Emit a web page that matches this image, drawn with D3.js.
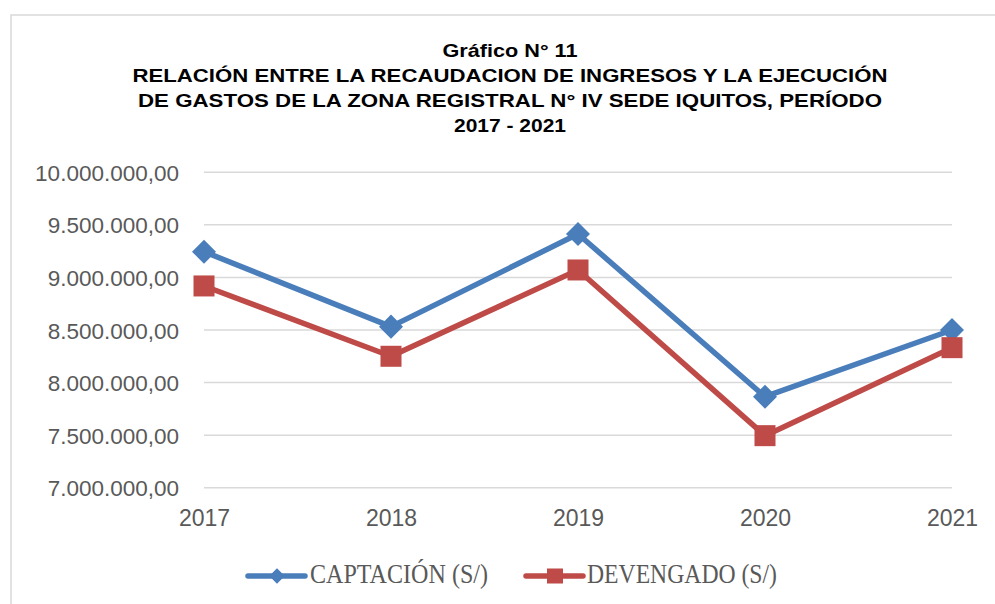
<!DOCTYPE html>
<html><head><meta charset="utf-8">
<script src="https://cdn.jsdelivr.net/npm/d3@7"></script>
<style>body{margin:0;background:#fff}svg{display:block}</style>
</head><body>
<svg id="c" width="995" height="604"></svg>
<script>
const years = ["2017","2018","2019","2020","2021"];
const captacion = [9245000, 8532000, 9413000, 7866000, 8500000];
const devengado = [8919000, 8250000, 9071000, 7495000, 8332000];
const yTicks = [7000000, 7500000, 8000000, 8500000, 9000000, 9500000, 10000000];
const seriesNames = ["CAPTACIÓN (S/)", "DEVENGADO (S/)"];
const titleLines = ["Gráfico N° 11",
  "RELACIÓN ENTRE LA RECAUDACION DE INGRESOS Y LA EJECUCIÓN",
  "DE GASTOS DE LA ZONA REGISTRAL N° IV SEDE IQUITOS, PERÍODO",
  "2017 - 2021"];

const svg = d3.select("#c");
// chart border
svg.append("rect").attr("x",11).attr("y",15).attr("width",1000).attr("height",620)
  .attr("fill","#fff").attr("stroke","#d9d9d9").attr("stroke-width",1.5);

// title
const tY = [57, 82, 107, 132];
const tW = [135, 755, 744, 112];
titleLines.forEach((t,i)=>{
  svg.append("text").attr("x",510).attr("y",tY[i]).attr("text-anchor","middle")
    .attr("font-family","Liberation Sans, Arial, sans-serif").attr("font-weight","bold")
    .attr("font-size",18.5).attr("fill","#000")
    .attr("textLength",tW[i]).attr("lengthAdjust","spacingAndGlyphs").text(t);
});

const x = d3.scalePoint().domain(years).range([204, 952]);
const y = d3.scaleLinear().domain([7000000, 10000000]).range([487.7, 172.3]);

const fmt = v => d3.format(",.2f")(v).replace(/,/g,"X").replace(/\./g,",").replace(/X/g,".");

// gridlines
svg.append("g").selectAll("line").data(yTicks).join("line")
  .attr("x1",204).attr("x2",952).attr("y1",d=>y(d)).attr("y2",d=>y(d))
  .attr("stroke","#d9d9d9").attr("stroke-width",1.5);

// y axis labels
const yAxis = d3.axisLeft(y).tickValues(yTicks).tickFormat(fmt).tickSize(0).tickPadding(0);
const gy = svg.append("g").attr("transform","translate(179,0)").call(yAxis);
gy.select(".domain").remove();
gy.selectAll("text").attr("font-family","Liberation Sans, Arial, sans-serif")
  .attr("font-size",22.5).attr("fill","#595959").attr("dy","0.36em");

// x axis labels
const xAxis = d3.axisBottom(x).tickSize(0).tickPadding(0);
const gx = svg.append("g").attr("transform","translate(0,510)").call(xAxis);
gx.select(".domain").remove();
gx.selectAll("text").attr("font-family","Liberation Sans, Arial, sans-serif")
  .attr("font-size",23).attr("fill","#595959").attr("dy","0.71em");

const colors = ["#4a7ebb", "#be4b48"];
const data = [captacion, devengado];
const line = d3.line().x((d,i)=>x(years[i])).y(d=>y(d));
data.forEach((s,k)=>{
  svg.append("path").datum(s).attr("d",line).attr("fill","none")
    .attr("stroke",colors[k]).attr("stroke-width",5.5).attr("stroke-linejoin","round");
});
function marker(g, k, cx, cy){
  if(k===0){
    g.append("rect").attr("x",cx-8.5).attr("y",cy-8.5).attr("width",17).attr("height",17)
      .attr("transform",`rotate(45 ${cx} ${cy})`).attr("fill",colors[0]);
  } else {
    g.append("rect").attr("x",cx-10.5).attr("y",cy-10.5).attr("width",21).attr("height",21)
      .attr("fill",colors[1]);
  }
}
const mg = svg.append("g");
data.forEach((s,k)=>s.forEach((v,i)=>marker(mg,k,x(years[i]),y(v))));

// legend
const legX = [248, 526], legTx = [310, 587], legTw = [178, 190];
const ly = 576;
seriesNames.forEach((n,k)=>{
  svg.append("line").attr("x1",legX[k]).attr("x2",legX[k]+57).attr("y1",ly).attr("y2",ly)
    .attr("stroke",colors[k]).attr("stroke-width",5.5).attr("stroke-linecap","round");
  const cx = legX[k]+29;
  if(k===0){
    svg.append("rect").attr("x",cx-5.5).attr("y",ly-5.5).attr("width",11).attr("height",11)
      .attr("transform",`rotate(45 ${cx} ${ly})`).attr("fill",colors[0]);
  } else {
    svg.append("rect").attr("x",cx-8).attr("y",ly-7.5).attr("width",16).attr("height",15)
      .attr("fill",colors[1]);
  }
  svg.append("text").attr("x",legTx[k]).attr("y",583)
    .attr("font-family","Liberation Serif, Times New Roman, serif").attr("font-size",27)
    .attr("fill","#595959").attr("textLength",legTw[k]).attr("lengthAdjust","spacingAndGlyphs").text(n);
});
</script>
</body></html>
